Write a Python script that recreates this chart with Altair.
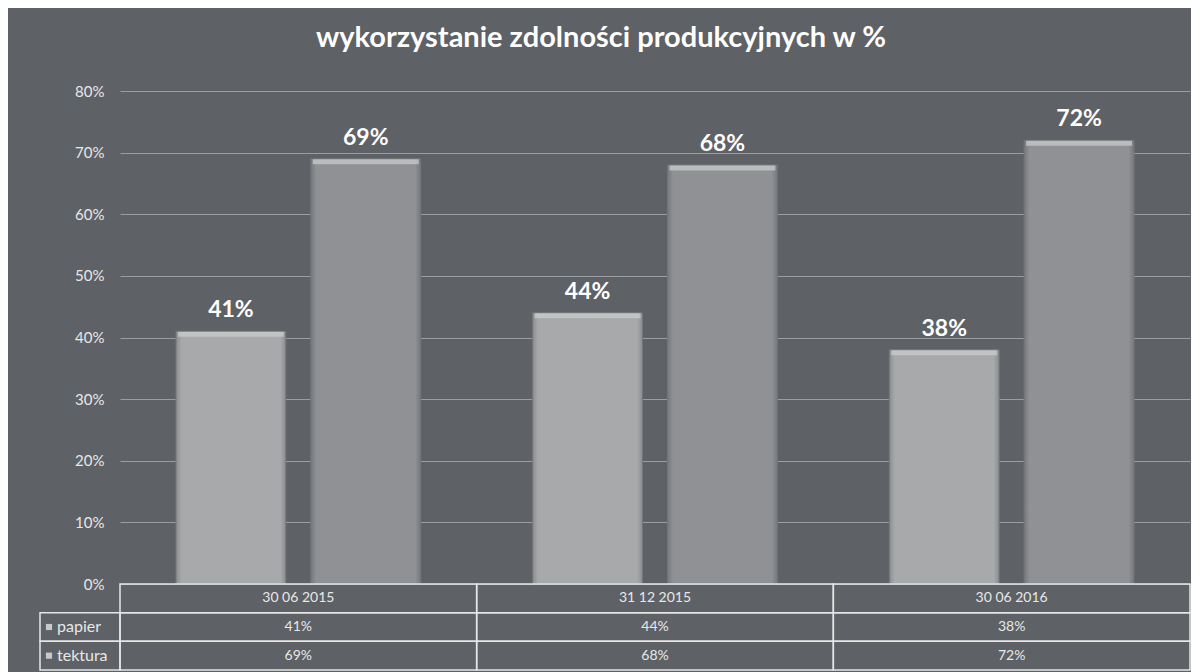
import altair as alt
import pandas as pd

categories = ["30 06 2015", "31 12 2015", "30 06 2016"]
series = ["papier", "tektura"]
papier = [0.41, 0.44, 0.38]
tektura = [0.69, 0.68, 0.72]
y_ticks = [0, 0.1, 0.2, 0.3, 0.4, 0.5, 0.6, 0.7, 0.8]
title_text = "wykorzystanie zdolności produkcyjnych w %"
row_order = ["header", "papier", "tektura"]

FONT = "Lato"
BG = "#5e6165"
TXT = "#e8e8e8"

rows = []
for i, c in enumerate(categories):
    rows.append({"category": c, "series": "papier", "value": papier[i]})
    rows.append({"category": c, "series": "tektura", "value": tektura[i]})
df = pd.DataFrame(rows)

cells = []
for i, c in enumerate(categories):
    cells.append({"category": c, "row": "header", "text": c})
    cells.append({"category": c, "row": "papier", "text": f"{round(papier[i] * 100)}%"})
    cells.append({"category": c, "row": "tektura", "text": f"{round(tektura[i] * 100)}%"})
tdf = pd.DataFrame(cells)
ldf = pd.DataFrame({"row": series, "label": series})


def grad(edge, mid):
    return alt.Gradient(
        gradient="linear", x1=0, x2=1, y1=0, y2=0,
        stops=[
            alt.GradientStop(offset=0, color=edge),
            alt.GradientStop(offset=0.05, color=mid),
            alt.GradientStop(offset=0.95, color=mid),
            alt.GradientStop(offset=1, color=edge),
        ],
    )


bar_fill = {"papier": grad("#8a8c8f", "#a8a9ab"), "tektura": grad("#76787c", "#8f9194")}

x = alt.X("category:N", sort=categories, scale=alt.Scale(domain=categories, paddingInner=0, paddingOuter=0), axis=None)
xoff = alt.XOffset("series:N", sort=series, scale=alt.Scale(domain=series, paddingInner=0.185, paddingOuter=0.415))
y = alt.Y(
    "value:Q",
    scale=alt.Scale(domain=[0, 0.8]),
    axis=alt.Axis(
        values=y_ticks, format=".0%", title=None, domain=False, ticks=False,
        labelFont=FONT, labelFontSize=15, labelColor=TXT, labelPadding=16,
        grid=True, gridColor="#9a9da1", gridWidth=1,
    ),
)

base = alt.Chart(df).encode(x=x, xOffset=xoff, y=y)
layers = []
for s in series:
    sub = base.transform_filter(alt.datum.series == s)
    layers.append(sub.mark_bar(color=bar_fill[s], stroke="#737579", strokeWidth=1))
    layers.append(sub.mark_tick(color="#cdced0", thickness=5, size=106, yOffset=3))
labels = base.mark_text(
    font=FONT, fontSize=23, fontWeight="bold", color="white", dy=-14, baseline="alphabetic"
).encode(text=alt.Text("value:Q", format=".0%"))

top = alt.layer(*layers, labels).properties(width=1070, height=493)

tx = alt.X("category:N", sort=categories, scale=alt.Scale(domain=categories, paddingInner=0, paddingOuter=0), axis=None)
ty = alt.Y("row:N", sort=row_order, scale=alt.Scale(domain=row_order, paddingInner=0, paddingOuter=0), axis=None)

grid_cells = alt.Chart(tdf).mark_rect(fillOpacity=0, stroke="#e6e6e6", strokeWidth=1.5).encode(x=tx, y=ty)
cell_text = alt.Chart(tdf).mark_text(font=FONT, fontSize=14, color=TXT).encode(x=tx, y=ty, text="text:N")
lab_rect = alt.Chart(ldf).mark_rect(fillOpacity=0, stroke="#e6e6e6", strokeWidth=1.5).encode(
    x=alt.value(-80), x2=alt.value(0), y=ty
)
lab_mark = alt.Chart(ldf).mark_square(size=38, color="#c8c9cb", opacity=1).encode(x=alt.value(-71), y=ty)
lab_text = alt.Chart(ldf).mark_text(font=FONT, fontSize=16, color=TXT, align="left").encode(
    x=alt.value(-63), y=ty, text="label:N"
)
table = alt.layer(grid_cells, cell_text, lab_rect, lab_mark, lab_text).properties(width=1070, height=86)

chart = alt.vconcat(top, table, spacing=0, bounds="flush").properties(
    title=alt.TitleParams(
        title_text, font=FONT, fontSize=29, fontWeight="bold", color="white",
        anchor="middle", offset=31, dx=-14,
    ),
    background=BG,
    padding={"left": 31, "top": 16, "right": 0, "bottom": 10},
).configure_view(stroke=None)

chart.save("out.html", embed_options={"renderer": "svg", "actions": False})
